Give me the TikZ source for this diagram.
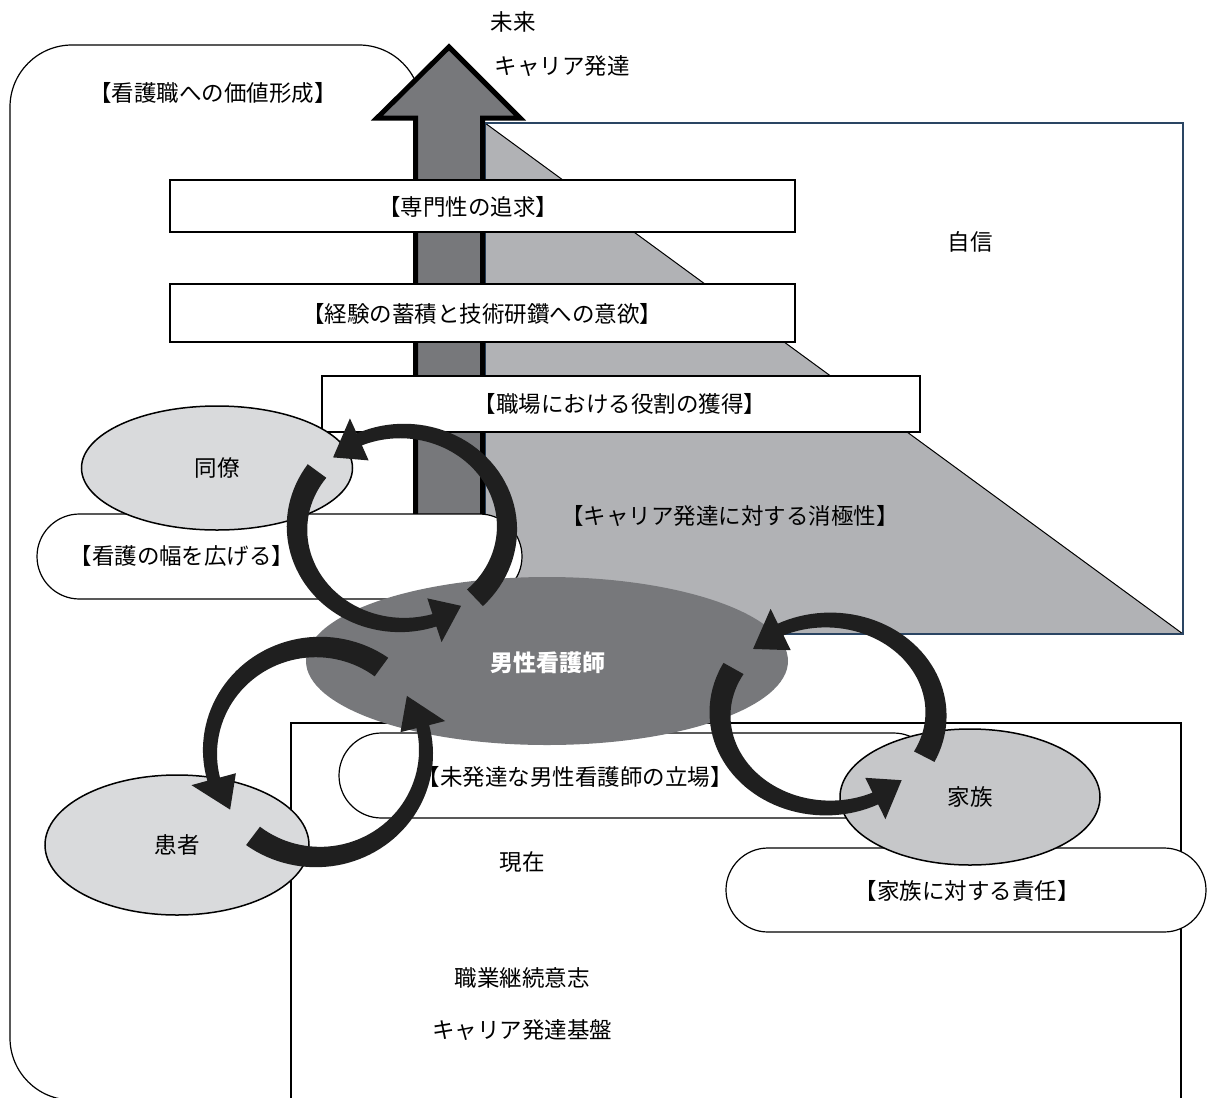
\documentclass[tikz,border=0pt]{standalone}
\usepackage{fontspec}
\setmainfont{Noto Sans CJK JP}
\usetikzlibrary{shapes.geometric,shapes.misc}
\definecolor{dgrey}{HTML}{77787B}
\definecolor{lgrey}{HTML}{B1B2B5}
\definecolor{egrey}{HTML}{D9DADC}
\definecolor{fgrey}{HTML}{C6C7C9}
\definecolor{navy}{HTML}{2A4563}
\def\hw{23}
\def\toff{-2}
% cx cy rx ry a1(tail) a2(head base) a3(tip) w0 w1
\newcommand\carr[9]{%
 \fill[arrowblack]
 plot[domain=0:1,samples=50] ({(#1)+((#3)+((#8)+((#9)-(#8))*\x)/2)*cos((#5)+((#6)-(#5))*\x)},{(#2)+((#4)+((#8)+((#9)-(#8))*\x)/2)*sin((#5)+((#6)-(#5))*\x)})
 -- ({(#1)+((#3)+\hw)*cos(#6)},{(#2)+((#4)+\hw)*sin(#6)})
 -- ({(#1)+((#3)+\toff)*cos(#7)},{(#2)+((#4)+\toff)*sin(#7)})
 -- ({(#1)+((#3)-\hw)*cos(#6)},{(#2)+((#4)-\hw)*sin(#6)})
 -- plot[domain=0:1,samples=50] ({(#1)+((#3)-((#9)+((#8)-(#9))*\x)/2)*cos((#6)+((#5)-(#6))*\x)},{(#2)+((#4)-((#9)+((#8)-(#9))*\x)/2)*sin((#6)+((#5)-(#6))*\x)})
 -- cycle;}
\tikzset{
 box/.style={draw=black, line width=1.2pt, fill=white, rectangle, inner sep=0pt},
 rbox/.style={draw=black, line width=1.2pt, fill=white, rounded rectangle, inner sep=0pt},
 ell/.style={draw=black, line width=1.5pt, ellipse, inner sep=0pt, font=\fontsize{22.5pt}{27pt}\selectfont},
 txt/.style={font=\fontsize{22.5pt}{27pt}\selectfont, inner sep=0pt},
 arrowblack/.style={fill=black!88},
}
\begin{document}
\begin{tikzpicture}[x=1pt,y=-1pt]
\useasboundingbox (0,0) rectangle (1208,1098);
\fill[white] (0,0) rectangle (1208,1098);
% outer frame
\draw[line width=1.2pt, fill=white, rounded corners=62pt] (10,45) rectangle (421,1100);
% top-right rectangle with grey wedge
\fill[white] (485,123) rectangle (1183,634);
\fill[lgrey] (485,123) -- (1183,634) -- (485,634) -- cycle;
\draw[line width=1pt] (485,123) -- (1183,634);
\draw[navy, line width=1.3pt] (485,123) rectangle (1183,634);
% big up arrow
\draw[line width=5pt, fill=dgrey, line join=miter] (415.5,518) -- (415.5,118) -- (377,118) -- (449,47) -- (520,118) -- (482.5,118) -- (482.5,518) -- cycle;
% boxes on the arrow
\node[box, minimum width=625pt, minimum height=52pt] (sbox) at (482.5,206) {};
\node[box, minimum width=625pt, minimum height=58pt] (ebox) at (482.5,313) {};
\node[box, minimum width=598pt, minimum height=56pt] (wbox) at (621,404) {};
\node[rbox, minimum width=485pt, minimum height=85pt] (hbox) at (279.5,556.5) {};
\node[ell, fill=egrey, minimum width=271pt, minimum height=124pt] (doryo) at (217,468) {同僚};
% bottom rectangle
\draw[line width=1.3pt, fill=white] (291,723) rectangle (1181,1110);
\node[rbox, minimum width=597pt, minimum height=85pt] (mbox) at (637.5,775.5) {};
\node[ellipse, fill=dgrey, inner sep=0pt, minimum width=482pt, minimum height=168pt] (dansei) at (547,661) {};
\node[txt, text=white, font=\fontsize{23pt}{27pt}\selectfont\bfseries] (tdansei) at (548,663) {男性看護師};
\node[rbox, minimum width=480pt, minimum height=84pt] (kbox) at (966,890) {};
\node[ell, fill=fgrey, minimum width=260pt, minimum height=136pt] (kazoku) at (970,797) {家族};
\node[ell, fill=egrey, minimum width=264pt, minimum height=140pt] (kanja) at (177,845) {患者};
% texts
\node[txt] (tmirai) at (513,22) {未来};
\node[txt] (tcareer) at (562,66) {キャリア発達};
\node[txt] (tkachi) at (213,93) {【看護職への価値形成】};
\node[txt] (tsenmon) at (468,207) {【専門性の追求】};
\node[txt] (tkeiken) at (482,314) {【経験の蓄積と技術研鑽への意欲】};
\node[txt] (tshokuba) at (620,404) {【職場における役割の獲得】};
\node[txt] (tjishin) at (970,242) {自信};
\node[txt] (thaba) at (182,556) {【看護の幅を広げる】};
\node[txt] (tshokyoku) at (730,516) {【キャリア発達に対する消極性】};
\node[txt] (tmihattatsu) at (575,777) {【未発達な男性看護師の立場】};
\node[txt] (tsekinin) at (967,891) {【家族に対する責任】};
\node[txt] (tgenzai) at (522,862) {現在};
\node[txt] (tishi) at (522,978) {職業継続意志};
\node[txt] (tkiban) at (522,1030) {キャリア発達基盤};
% circular arrows
\carr{402}{528}{105}{97}{46}{-114}{-132}{23}{13}
\carr{402}{528}{105}{97}{-144}{-288}{-305}{23}{13}
\carr{318}{752}{108}{105}{-54}{-195}{-214}{23}{13}
\carr{318}{752}{108}{105}{127}{-14}{-33}{23}{13}
\carr{828}{714}{108}{94}{27}{-116}{-135}{23}{13}
\carr{828}{714}{108}{94}{-151}{-296}{-314}{23}{13}
\end{tikzpicture}
\end{document}
